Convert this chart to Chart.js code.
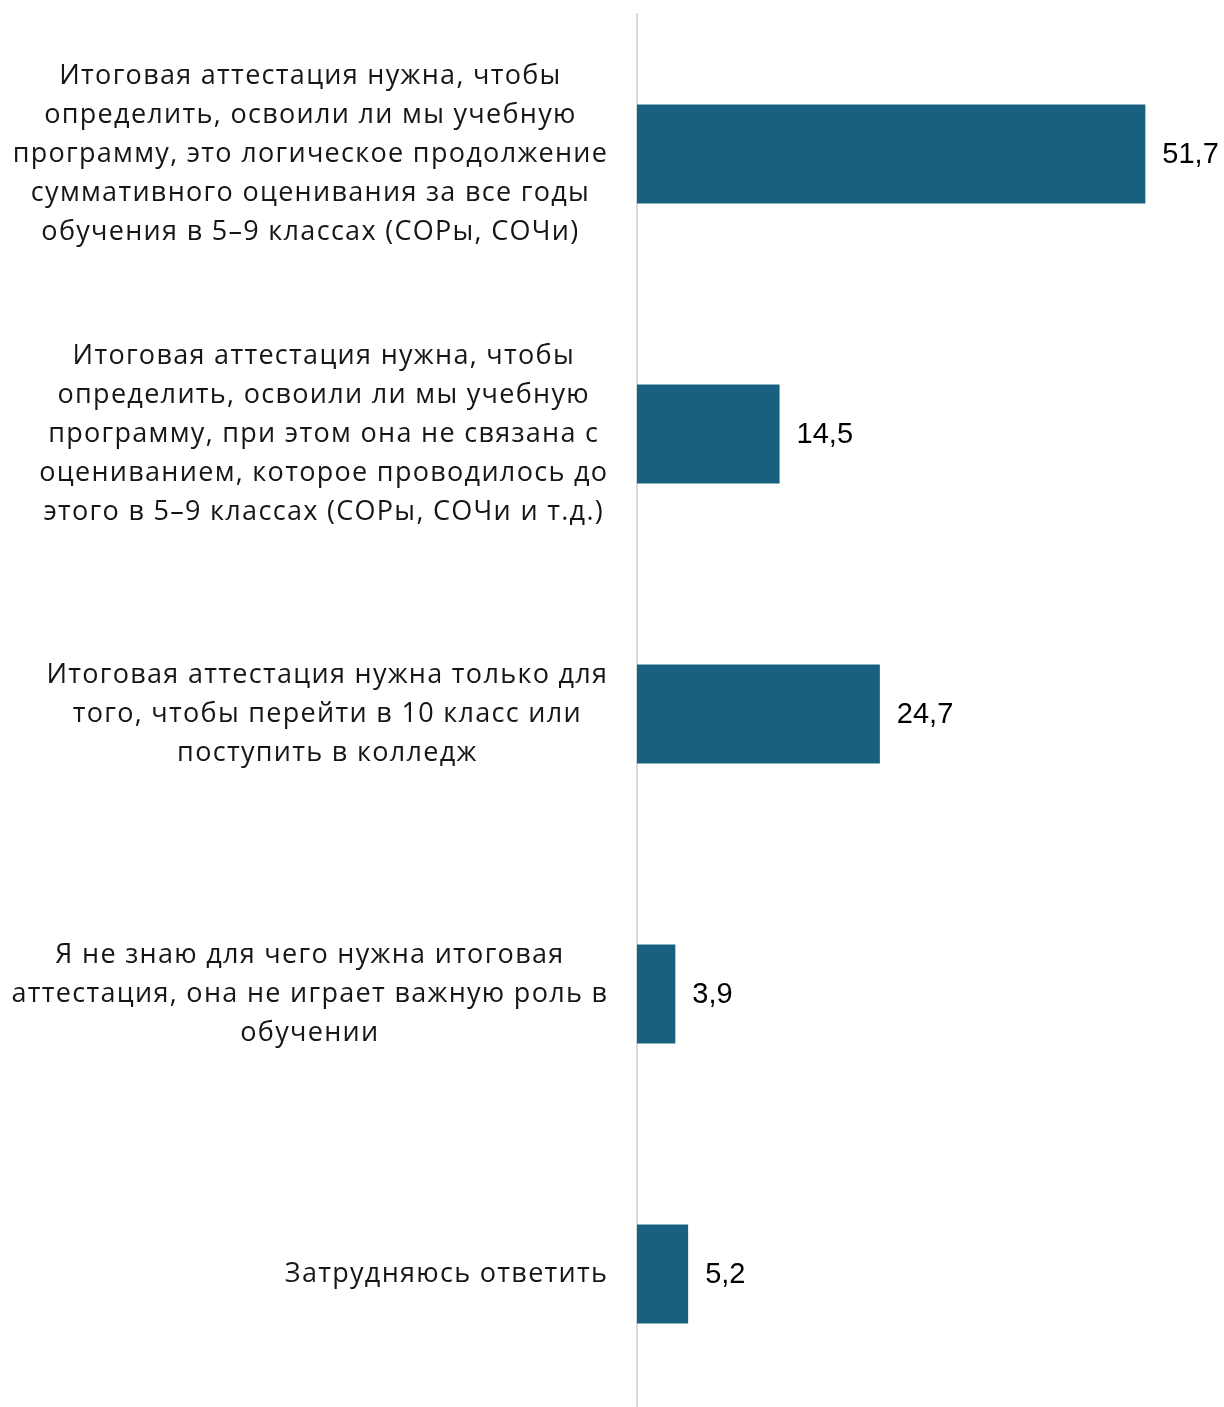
<!DOCTYPE html>
<html>
<head>
<meta charset="utf-8">
<script src="https://cdn.jsdelivr.net/npm/chart.js@4"></script>
<style>
html,body{margin:0;padding:0;background:#fff;overflow:hidden;width:1224px;height:1407px;}
#wrap{position:relative;width:1224px;height:1414px;}
</style>
</head>
<body>
<div id="wrap"><canvas id="c"></canvas></div>
<script>
const categories = [
  ["Итоговая аттестация нужна, чтобы","определить, освоили ли мы учебную","программу, это логическое продолжение","суммативного оценивания за все годы","обучения в 5–9 классах (СОРы, СОЧи)"],
  ["Итоговая аттестация нужна, чтобы","определить, освоили ли мы учебную","программу, при этом она не связана с","оцениванием, которое проводилось до","этого в 5–9 классах (СОРы, СОЧи и т.д.)"],
  ["Итоговая аттестация нужна только для","того, чтобы перейти в 10 класс или","поступить в колледж"],
  ["Я не знаю для чего нужна итоговая","аттестация, она не играет важную роль в","обучении"],
  ["Затрудняюсь ответить"]
];
const values = [51.7, 14.5, 24.7, 3.9, 5.2];
const valueLabels = ["51,7", "14,5", "24,7", "3,9", "5,2"];

const catFont = '500 27px "Open Sans"';
const catSpacing = 1.3;
const valFont = '29px "Liberation Sans", Arial, sans-serif';

const labelPlugin = {
  id: 'labels',
  afterDraw(chart) {
    const ctx = chart.ctx;
    const y = chart.scales.y;
    const meta = chart.getDatasetMeta(0);
    ctx.save();
    ctx.font = catFont;
    ctx.letterSpacing = catSpacing + 'px';
    ctx.fillStyle = '#161616';
    ctx.textBaseline = 'middle';
    ctx.textAlign = 'left';
    const lh = 39;
    const rightEdge = chart.chartArea.left - 30;
    categories.forEach((lines, i) => {
      const cy = y.getPixelForTick(i);
      const widths = lines.map(l => ctx.measureText(l).width - catSpacing);
      const w = Math.max(...widths);
      const cx = rightEdge - w / 2;
      const y0 = cy - (lines.length - 1) * lh / 2;
      lines.forEach((l, j) => ctx.fillText(l, cx - widths[j] / 2, y0 + j * lh));
    });
    ctx.letterSpacing = '0px';
    ctx.font = valFont;
    ctx.textAlign = 'left';
    ctx.fillStyle = '#000';
    meta.data.forEach((bar, i) => {
      ctx.fillText(valueLabels[i], bar.x + 17, bar.y + 1);
    });
    ctx.restore();
  }
};

new Chart(document.getElementById('c'), {
  type: 'bar',
  data: {
    labels: categories.map(c => c.join(' ')),
    datasets: [{
      data: values,
      backgroundColor: '#17607F',
      borderWidth: 0,
      barPercentage: 0.354,
      categoryPercentage: 1.0
    }]
  },
  options: {
    indexAxis: 'y',
    responsive: true,
    maintainAspectRatio: false,
    animation: false,
    layout: { padding: { left: 637, right: 0, top: 14, bottom: 0 } },
    plugins: { legend: { display: false }, tooltip: { enabled: false } },
    scales: {
      x: { min: 0, max: 59.7, display: false },
      y: {
        ticks: { display: false },
        grid: { display: false, drawTicks: false },
        border: { display: true, color: '#d9d9d9', width: 2 }
      }
    }
  },
  plugins: [labelPlugin]
});
</script>
</body>
</html>
